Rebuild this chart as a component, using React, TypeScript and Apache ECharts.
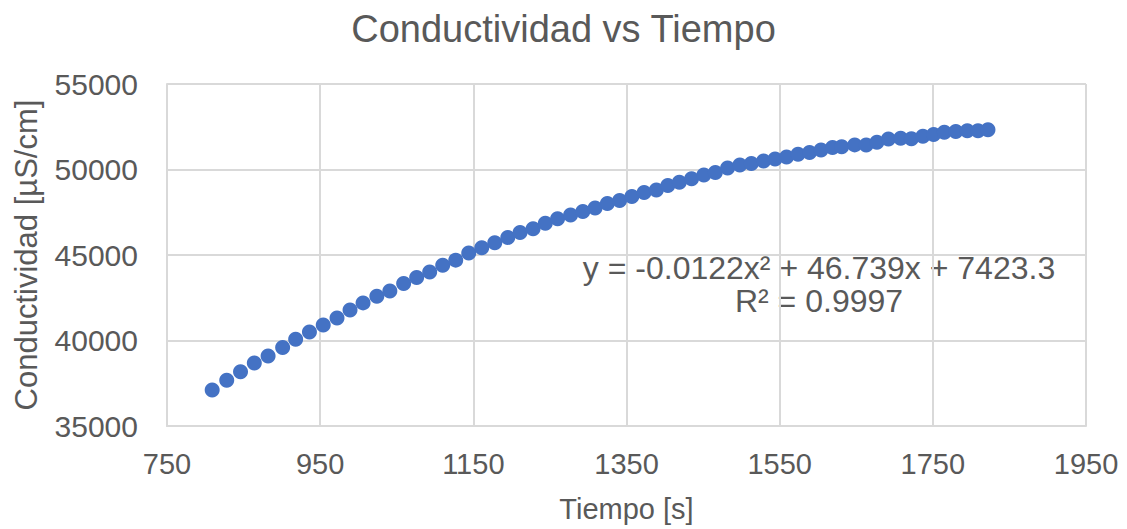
import React, { useEffect, useRef } from "react";
import * as echarts from "echarts";

const TITLE = "Conductividad vs Tiempo";
const X_NAME = "Tiempo [s]";
const Y_NAME = "Conductividad [µS/cm]";
const EQUATION = "y = -0.0122x² + 46.739x + 7423.3";
const R_SQUARED = "R² = 0.9997";

const TIME_S = [
  809, 828, 846, 864, 882, 901, 918, 936, 954, 972, 989, 1006, 1024, 1041, 1059, 1076,
  1093, 1110, 1127, 1144, 1161, 1178, 1195, 1211, 1228, 1244, 1260, 1277, 1293, 1309,
  1325, 1341, 1357, 1373, 1389, 1404, 1419, 1435, 1451, 1466, 1482, 1498, 1513, 1529,
  1544, 1559, 1574, 1589, 1604, 1619, 1631, 1648, 1663, 1677, 1692, 1708, 1722, 1737,
  1751, 1765, 1780, 1795, 1809, 1822,
];

const CONDUCTIVITY = [
  37100, 37680, 38170, 38690, 39100, 39590, 40080, 40500, 40910, 41320, 41790, 42200,
  42590, 42900, 43330, 43680, 44000, 44400, 44700, 45110, 45430, 45720, 46030, 46320,
  46540, 46850, 47120, 47340, 47550, 47750, 48010, 48190, 48420, 48660, 48800, 49060,
  49260, 49460, 49680, 49820, 50090, 50260, 50350, 50500, 50610, 50730, 50890, 50990,
  51140, 51280, 51330, 51440, 51430, 51590, 51790, 51830, 51800, 51940, 52040, 52180,
  52220, 52270, 52270, 52330,
];

// x axis ticks: 750, 950, ..., 1950 (offset so ticks start at the axis origin)
const X_MIN = 750;
const X_MAX = 1950;
const X_STEP = 200;
const Y_MIN = 35000;
const Y_MAX = 55000;
const Y_STEP = 5000;

const FONT = "'Liberation Sans', Arial, sans-serif";
const TEXT_COLOR = "#595959";
const GRID_COLOR = "#d9d9d9";
const MARKER_COLOR = "#4472C4";

export default function App() {
  const ref = useRef<HTMLDivElement>(null);

  useEffect(() => {
    if (!ref.current) return;
    const chart = echarts.init(ref.current, undefined, { renderer: "svg" });
    const points = TIME_S.map((t, i) => [t - X_MIN, CONDUCTIVITY[i]]);

    chart.setOption({
      animation: false,
      backgroundColor: "#ffffff",
      textStyle: { fontFamily: FONT },
      title: {
        text: TITLE,
        left: "center",
        top: 5,
        textStyle: {
          color: TEXT_COLOR,
          fontFamily: FONT,
          fontSize: 38,
          fontWeight: "normal",
        },
      },
      grid: { left: 167, right: 41, top: 84, bottom: 103, containLabel: false },
      xAxis: {
        type: "value",
        min: 0,
        max: X_MAX - X_MIN,
        interval: X_STEP,
        name: X_NAME,
        nameLocation: "middle",
        nameGap: 68,
        nameTextStyle: { color: TEXT_COLOR, fontSize: 29, fontFamily: FONT },
        axisLine: { show: true, lineStyle: { color: GRID_COLOR, width: 2 } },
        axisTick: { show: false },
        axisLabel: {
          color: TEXT_COLOR,
          fontSize: 29,
          fontFamily: FONT,
          margin: 23,
          formatter: (v: number) => String(v + X_MIN),
        },
        splitLine: { show: true, lineStyle: { color: GRID_COLOR, width: 2 } },
      },
      yAxis: {
        type: "value",
        min: Y_MIN,
        max: Y_MAX,
        interval: Y_STEP,
        name: Y_NAME,
        nameLocation: "middle",
        nameGap: 125,
        nameTextStyle: { color: TEXT_COLOR, fontSize: 31, fontFamily: FONT },
        axisLine: { show: true, lineStyle: { color: GRID_COLOR, width: 2 } },
        axisTick: { show: false },
        axisLabel: {
          color: TEXT_COLOR,
          fontSize: 30,
          fontFamily: FONT,
          margin: 29,
          formatter: (v: number) => String(v),
        },
        splitLine: { show: true, lineStyle: { color: GRID_COLOR, width: 2 } },
      },
      series: [
        {
          type: "scatter",
          data: points,
          symbol: "circle",
          symbolSize: 15,
          itemStyle: { color: MARKER_COLOR, opacity: 1 },
        },
      ],
      graphic: [
        {
          type: "text",
          x: 819,
          y: 268,
          style: {
            text: EQUATION,
            fill: TEXT_COLOR,
            font: `32px ${FONT}`,
            textAlign: "center",
            textVerticalAlign: "middle",
          },
        },
        {
          type: "text",
          x: 819,
          y: 301,
          style: {
            text: R_SQUARED,
            fill: TEXT_COLOR,
            font: `32px ${FONT}`,
            textAlign: "center",
            textVerticalAlign: "middle",
          },
        },
      ],
    });

    return () => chart.dispose();
  }, []);

  return (
    <div
      ref={ref}
      style={{ position: "fixed", left: 0, top: 0, width: 1127, height: 529 }}
    />
  );
}
